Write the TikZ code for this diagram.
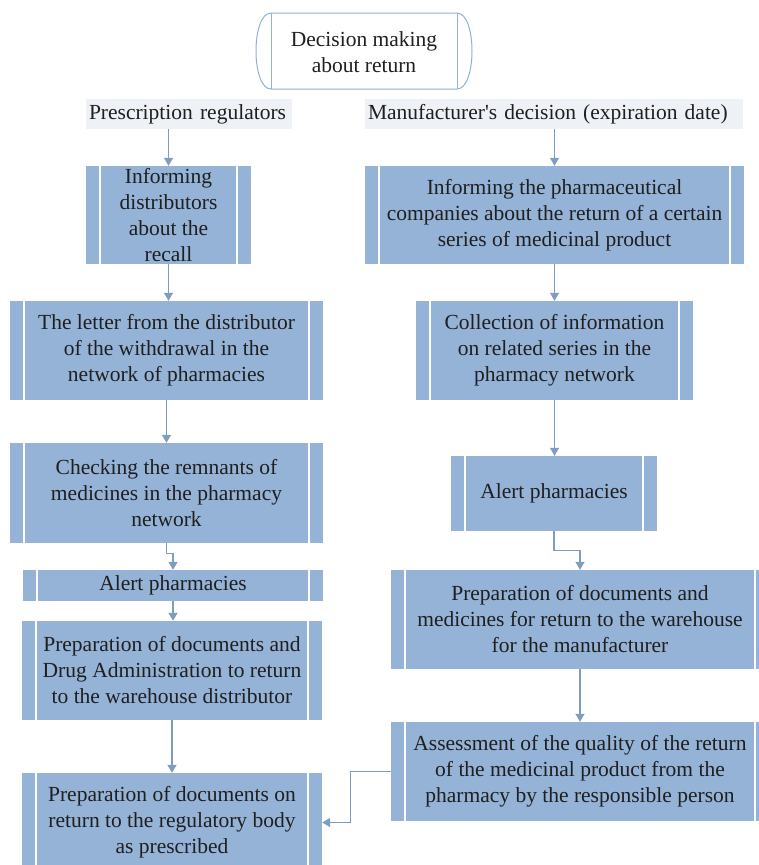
\documentclass[tikz,border=0pt]{standalone}
\usepackage{fontspec}
\setmainfont{Liberation Serif}
\newfontfamily\plainserif{Liberation Serif}
\usetikzlibrary{arrows.meta,calc}
\definecolor{boxfill}{HTML}{95B3D7}
\definecolor{labfill}{HTML}{EEF2F7}
\definecolor{arrcol}{HTML}{7F9DBE}
\definecolor{termline}{HTML}{8EB1D9}
\definecolor{txt}{HTML}{1F1F1F}
\begin{document}
\begin{tikzpicture}[x=1pt,y=-1pt,
  font=\fontsize{21.5}{26}\selectfont,
  pbox/.style={rectangle, fill=boxfill, inner sep=0pt, align=center, text=txt,
    path picture={
      \draw[white, line width=1.5pt] ([xshift=14pt]path picture bounding box.north west) -- ([xshift=14pt]path picture bounding box.south west);
      \draw[white, line width=1.5pt] ([xshift=-14pt]path picture bounding box.north east) -- ([xshift=-14pt]path picture bounding box.south east);
    }},
  lab/.style={rectangle, fill=labfill, inner ysep=0pt, inner xsep=3pt, align=left, text=txt},
  arr/.style={draw=arrcol, line width=1.2pt, -{Triangle[width=9pt,length=8pt]}},
  term/.style={draw=termline, line width=1pt}
]
\useasboundingbox (0,0) rectangle (758,865);

% terminator
\draw[term] (271,13) -- (457,13) .. controls (477,13) and (477,89) .. (457,89) -- (271,89) .. controls (251,89) and (251,13) .. (271,13) -- cycle;
\draw[term] (271,13) -- (271,89);
\draw[term] (457,13) -- (457,89);
\node[align=center, text=txt, inner sep=0pt] (start) at (364,52) {Decision making\\about return};

% labels
\node[lab, text width=200pt, minimum height=30pt] (lab1) at (189,114) {Prescription regulators};
\node[lab, text width=372pt, minimum height=30pt] (lab2) at (554,114) {Manufacturer{\plainserif '}s decision (expiration date)};

% left column
\node[pbox, minimum width=165pt, minimum height=98pt] (L1) at (168.5,215) {Informing\\distributors\\about the\\recall};
\node[pbox, minimum width=313pt, minimum height=99pt] (L2) at (166.5,350.5) {The letter from the distributor\\of the withdrawal in the\\network of pharmacies};
\node[pbox, minimum width=313pt, minimum height=100pt] (L3) at (166.5,493) {Checking the remnants of\\medicines in the pharmacy\\network};
\node[pbox, minimum width=300pt, minimum height=31pt] (L4) at (173,585.5) {Alert pharmacies};
\node[pbox, minimum width=300pt, minimum height=99pt] (L5) at (172,670.5) {Preparation of documents and\\Drug Administration to return\\to the warehouse distributor};
\node[pbox, minimum width=300pt, minimum height=99pt] (L6) at (172,822.5) {Preparation of documents on\\return to the regulatory body\\as prescribed};

% right column
\node[pbox, minimum width=379pt, minimum height=98pt] (R1) at (554.5,215) {Informing the pharmaceutical\\companies about the return of a certain\\series of medicinal product};
\node[pbox, minimum width=277pt, minimum height=99pt] (R2) at (554.5,350.5) {Collection of information\\on related series in the\\pharmacy network};
\node[pbox, minimum width=206pt, minimum height=75pt] (R3) at (554,493.5) {Alert pharmacies};
\node[pbox, minimum width=378pt, minimum height=99pt] (R4) at (580,619.5) {Preparation of documents and\\medicines for return to the warehouse\\for the manufacturer};
\node[pbox, minimum width=378pt, minimum height=99pt] (R5) at (580,771.5) {Assessment of the quality of the return\\of the medicinal product from the\\pharmacy by the responsible person};

% connectors
\draw[arr] (L1.north |- lab1.south) -- (L1.north);
\draw[arr] (R1.north |- lab2.south) -- (R1.north);
\draw[arr] (L1.south) -- (L1.south |- L2.north);
\draw[arr] (L2.south) -- (L3.north);
\draw[arr] (L3.south) -- ++(0,10) -| (L4.north);
\draw[arr] (L4.south) -- (L4.south |- L5.north);
\draw[arr] (L5.south) -- (L6.north);
\draw[arr] (R1.south) -- (R1.south |- R2.north);
\draw[arr] (R2.south) -- (R2.south |- R3.north);
\draw[arr] (R3.south) -- ++(0,19) -| (R4.north);
\draw[arr] (R4.south) -- (R5.north);
\draw[arr] (R5.west) -- ++(-40,0) |- (L6.east);
\end{tikzpicture}
\end{document}
